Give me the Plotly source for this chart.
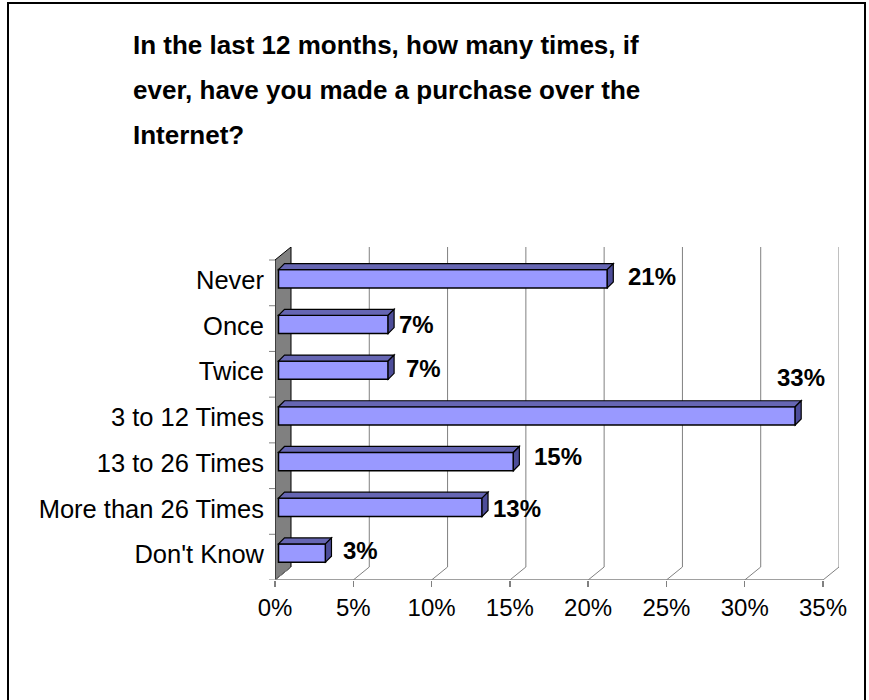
import plotly.graph_objects as go

# ---- data ----
categories = ["Never", "Once", "Twice", "3 to 12 Times", "13 to 26 Times",
              "More than 26 Times", "Don't Know"]
values = [21, 7, 7, 33, 15, 13, 3]
value_labels = ["21%", "7%", "7%", "33%", "15%", "13%", "3%"]
x_ticks = [0, 5, 10, 15, 20, 25, 30, 35]
title_lines = ["In the last 12 months, how many times, if",
               "ever, have you made a purchase over the",
               "Internet?"]

# ---- geometry / style ----
W, H = 869, 700
ML, MR, MT, MB = 275, 30, 247, 120
PW, PH = W - ML - MR, H - MT - MB
PX_PER_X = 15.66          # pixels per percent
PX_PER_Y = 45.7           # pixels per category band
DEPTH_X = 16 / PX_PER_X   # full depth of the 3D box in x units
DEPTH_Y = 13 / PX_PER_Y   # full depth of the 3D box in y units
BAR_INSET = 3.5 / PX_PER_X
BAR_W = 0.40
BAR_OFF = -0.11
BDX = 6 / PX_PER_X
BDY = 6 / PX_PER_Y
XMAX = 35 + DEPTH_X
YMIN, YMAX = -0.5, len(categories) - 0.5 + DEPTH_Y
FONT = "Liberation Sans, Arial, sans-serif"
GRID = "#808080"
FRONT = "#9999FF"
TOP = "#6666B3"
SIDE = "#4D4D99"


def px_x(px):
    return (px - ML) / PW


def px_y(py):
    return (H - MB - py) / PH


n = len(categories)
pos = [n - 1 - i for i in range(n)]

fig = go.Figure()

shapes = []
# left wall
shapes.append(dict(type="path", xref="x", yref="y",
                   path=f"M 0 {YMIN} L 0 {n-0.5} L {DEPTH_X} {YMAX} L {DEPTH_X} {YMIN+DEPTH_Y} Z",
                   fillcolor="#808080", line=dict(color="black", width=1), layer="below"))
# back gridlines + floor diagonals
for t in x_ticks[1:]:
    shapes.append(dict(type="line", xref="x", yref="y", x0=t + DEPTH_X, x1=t + DEPTH_X,
                       y0=YMIN + DEPTH_Y, y1=YMAX, line=dict(color=GRID, width=1), layer="below"))
for t in x_ticks:
    shapes.append(dict(type="line", xref="x", yref="y", x0=t, x1=t + DEPTH_X,
                       y0=YMIN, y1=YMIN + DEPTH_Y, line=dict(color=GRID, width=1), layer="below"))
# bottom axis line
shapes.append(dict(type="line", xref="x", yref="y", x0=0, x1=x_ticks[-1], y0=YMIN, y1=YMIN,
                   line=dict(color=GRID, width=1.5)))
# category boundary ticks
for k in range(n + 1):
    yb = YMIN + k
    shapes.append(dict(type="line", xref="paper", yref="y", x0=px_x(269), x1=px_x(275),
                       y0=yb, y1=yb, line=dict(color=GRID, width=1)))

# front faces of bars
fig.add_trace(go.Bar(orientation="h", x=values, y=pos, base=BAR_INSET, width=BAR_W,
                     offset=BAR_OFF, marker=dict(color=FRONT, line=dict(color="black", width=1.5)),
                     hoverinfo="skip", showlegend=False))

# top and side faces
for v, p in zip(values, pos):
    x0 = BAR_INSET
    x1 = BAR_INSET + v
    yb = p + BAR_OFF
    yt = p + BAR_OFF + BAR_W
    shapes.append(dict(type="path", xref="x", yref="y",
                       path=f"M {x0} {yt} L {x1} {yt} L {x1+BDX} {yt+BDY} L {x0+BDX} {yt+BDY} Z",
                       fillcolor=TOP, line=dict(color="black", width=1.2)))
    shapes.append(dict(type="path", xref="x", yref="y",
                       path=f"M {x1} {yb} L {x1+BDX} {yb+BDY} L {x1+BDX} {yt+BDY} L {x1} {yt} Z",
                       fillcolor=SIDE, line=dict(color="black", width=1.2)))

# page border
shapes.append(dict(type="rect", xref="paper", yref="paper",
                   x0=px_x(8), x1=px_x(865), y0=px_y(710), y1=px_y(3),
                   line=dict(color="black", width=2), fillcolor="rgba(0,0,0,0)", layer="below"))

annotations = []
label_xshift = [13, 3, 10, 0, 13, 3, 10]
label_yshift = [2, 0, 2, 38, 5, -1, 3]
for v, p, lab, xs, ys in zip(values, pos, value_labels, label_xshift, label_yshift):
    centered = xs == 0
    annotations.append(dict(x=BAR_INSET + v + BDX, y=p + BAR_OFF + BAR_W / 2, xref="x", yref="y",
                            text=f"<b>{lab}</b>", showarrow=False,
                            xanchor="center" if centered else "left", yanchor="middle",
                            xshift=xs, yshift=ys,
                            font=dict(family=FONT, size=24, color="black")))

title_y = [45, 90, 135]
for line, ty in zip(title_lines, title_y):
    annotations.append(dict(x=px_x(131), y=px_y(ty), xref="paper", yref="paper",
                            xanchor="left", yanchor="middle", text=f"<b>{line}</b>",
                            showarrow=False, font=dict(family=FONT, size=26, color="black")))

fig.update_layout(
    width=W, height=H,
    margin=dict(l=ML, r=MR, t=MT, b=MB, autoexpand=False),
    paper_bgcolor="white", plot_bgcolor="white",
    showlegend=False,
    shapes=shapes, annotations=annotations,
    xaxis=dict(range=[0, XMAX], tickvals=x_ticks, ticktext=[f"{t}%" for t in x_ticks],
               showgrid=False, zeroline=False, showline=False, automargin=False,
               ticks="outside", ticklen=6, tickcolor=GRID, tickwidth=1.5,
               tickfont=dict(family=FONT, size=24, color="black")),
    yaxis=dict(range=[YMIN, YMAX], tickvals=[p + 0.06 for p in pos], ticktext=categories,
               showgrid=False, zeroline=False, showline=False, ticks="", automargin=False,
               ticklabelstandoff=10,
               tickfont=dict(family=FONT, size=25.5, color="black")),
)

fig.write_html("out.html", config={"displayModeBar": False, "staticPlot": True},
               post_script="document.body.style.margin='0';document.body.style.overflow='hidden';")
